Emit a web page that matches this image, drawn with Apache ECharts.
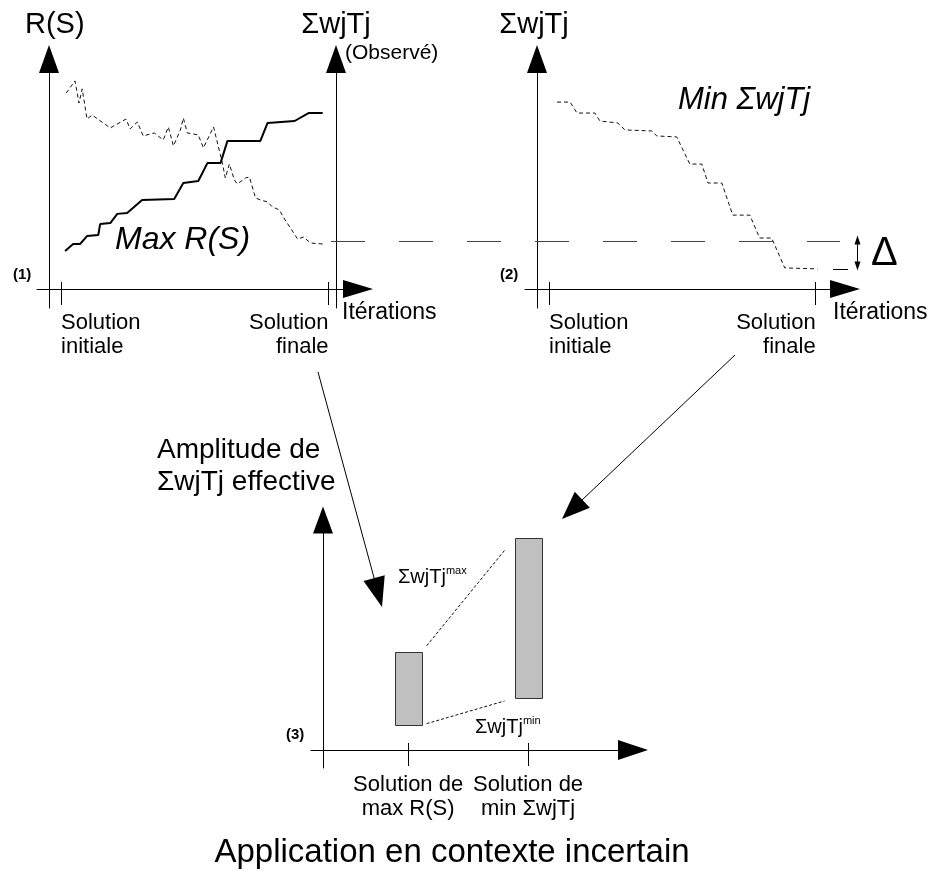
<!DOCTYPE html>
<html><head><meta charset="utf-8">
<script src="https://cdn.jsdelivr.net/npm/echarts@6/dist/echarts.min.js"></script>
<style>html,body{margin:0;padding:0;background:#fff}#c{width:930px;height:872px}</style>
</head><body><div id="c"></div>
<script>
// ---------- data ----------
const tickIter = [0, 100];
const tickLabels = ['Solution\ninitiale', 'Solution\nfinale'];
// Panel (1): observed ΣwjTj (dotted) while maximising R(S)
const obsIter = [1.9,5.2,6.7,7.9,9.7,11.6,18.4,24.3,25.8,28.5,30.7,34.8,38.2,40.1,42.0,44.6,45.7,47.2,51.3,53.2,57.0,60.3,61.4,62.9,64.8,65.9,68.9,70.4,72.7,74.5,77.2,79.0,81.6,83.1,88.4,90.6,93.3,97.8];
const obsValue = [86.3,91.2,82.3,88.0,75.9,77.5,72.3,75.9,71.9,74.7,69.1,70.3,67.5,72.7,65.1,71.5,76.3,70.3,69.5,64.3,72.7,58.2,52.2,57.8,51.4,49.8,52.2,52.6,44.2,43.4,42.6,40.6,39.4,36.5,27.7,28.5,26.1,25.7];
// Panel (1): R(S)
const rsIter = [1.5,4.5,7.1,9.7,13.9,14.6,18.4,21.0,24.7,30.3,42.3,45.7,51.3,54.7,59.6,62.2,74.5,77.2,87.3,92.5,97.8];
const rsValue = [22.9,25.7,25.7,28.9,29.3,33.7,34.1,37.8,38.2,43.4,43.8,50.2,51.0,58.2,58.2,67.1,67.1,74.3,75.1,78.3,78.3];
// Panel (2): min ΣwjTj
const minIter = [3.0,7.9,10.5,17.2,19.1,25.8,28.5,38.6,40.4,47.9,52.8,57.3,59.6,64.8,68.9,75.3,79.0,83.5,88.4,100.7];
const minValue = [82.7,82.7,78.3,78.3,75.1,74.3,71.5,71.1,69.1,68.7,57.8,57.8,50.2,50.2,37.3,37.3,28.1,28.1,16.1,15.7];
const observedLevel = 26.9;   // final observed ΣwjTj of panel (1)
const minLevel = 15.7;        // final ΣwjTj of panel (2)
// Panel (3): effective ΣwjTj ranges
const barPos = [1, 2];
const barCategories = ['Solution de\nmax R(S)', 'Solution de\nmin ΣwjTj'];
const barLow = [17.3, 28.2];
const barHigh = [46.8, 92.7];

// ---------- helpers ----------
const FONT = '"Liberation Sans", Arial, Helvetica, sans-serif';
const BLACK = '#000';
const zip = (a, b) => a.map((v, i) => [v, b[i]]);
const lblStyle = {color: BLACK, fontFamily: FONT, fontSize: 22, lineHeight: 24};

function xMain(g, min, max, ticks, labelVals, fmt, align, offset, arrowSize, margin) {
  return {
    type: 'value', gridIndex: g, min: min, max: max, position: 'bottom', offset: offset,
    axisLine: {show: true, onZero: false, symbol: ['none', 'triangle'], symbolSize: arrowSize,
      lineStyle: {color: BLACK, width: 1}},
    axisTick: {show: true, customValues: ticks, length: 16, inside: false, lineStyle: {color: BLACK, width: 1}},
    axisLabel: Object.assign({show: true, customValues: labelVals, formatter: fmt, align: align,
      verticalAlign: 'top', margin: margin}, lblStyle),
    splitLine: {show: false}
  };
}
function xOverlay(g, min, max, ticks, labelVals, fmt, align, offset, margin) {
  return {
    type: 'value', gridIndex: g, min: min, max: max, position: 'bottom', offset: offset,
    axisLine: {show: false, onZero: false},
    axisTick: {show: true, customValues: ticks, length: 7, inside: true, lineStyle: {color: BLACK, width: 1}},
    axisLabel: labelVals.length ? Object.assign({show: true, customValues: labelVals, formatter: fmt, align: align,
      verticalAlign: 'top', margin: margin}, lblStyle) : {show: false},
    splitLine: {show: false}
  };
}
function yAx(g, pos, offset, arrowSize) {
  return {
    type: 'value', gridIndex: g, min: 0, max: 100, position: pos, offset: offset,
    axisLine: {show: true, onZero: false, symbol: ['none', 'triangle'], symbolSize: arrowSize,
      lineStyle: {color: BLACK, width: 1}},
    axisTick: {show: false}, axisLabel: {show: false}, splitLine: {show: false}
  };
}
const iterFmt = v => tickLabels[tickIter.indexOf(v)];
const barFmt = v => barCategories[barPos.indexOf(v)];

const chart = echarts.init(document.getElementById('c'));
const option = {
  animation: false,
  backgroundColor: '#fff',
  textStyle: {fontFamily: FONT},
  grid: [
    {left: 37, right: 572, top: 59, bottom: 564, containLabel: false, outerBoundsMode: 'none'},
    {left: 525, right: 85, top: 59, bottom: 564, containLabel: false, outerBoundsMode: 'none'},
    {left: 311, right: 297, top: 520, bottom: 104, containLabel: false, outerBoundsMode: 'none'}
  ],
  xAxis: [
    xMain(0, -9, 111, tickIter, [tickIter[0]], iterFmt, 'left', -19, [18, 30], 22),
    xOverlay(0, -9, 111, tickIter, [tickIter[1]], iterFmt, 'right', -19, 22),
    xMain(1, -9, 111, tickIter, [tickIter[0]], iterFmt, 'left', -19, [18, 30], 22),
    xOverlay(1, -9, 111, tickIter, [tickIter[1]], iterFmt, 'right', -19, 22),
    xMain(2, 0.19, 2.875, barPos, barPos, barFmt, 'center', -18, [20, 30], 23),
    xOverlay(2, 0.19, 2.875, barPos, [], null, 'center', -18, 23)
  ],
  yAxis: [
    yAx(0, 'left', -12, [20, 28]),
    yAx(0, 'right', -22, [20, 28]),
    yAx(1, 'left', -12, [20, 28]),
    yAx(2, 'left', -12, [20, 27])
  ],
  series: [
    {name: 'ΣwjTj (Observé)', type: 'line', xAxisIndex: 0, yAxisIndex: 1, data: zip(obsIter, obsValue),
      symbol: 'none', lineStyle: {color: '#111', width: 1, type: [4, 3]}},
    {name: 'R(S)', type: 'line', xAxisIndex: 0, yAxisIndex: 0, data: zip(rsIter, rsValue),
      symbol: 'none', lineStyle: {color: BLACK, width: 2}},
    {name: 'Min ΣwjTj', type: 'line', xAxisIndex: 2, yAxisIndex: 2, data: zip(minIter, minValue),
      symbol: 'none', lineStyle: {color: '#111', width: 1, type: [4, 3]}},
    {name: 'Amplitude', type: 'custom', xAxisIndex: 4, yAxisIndex: 3,
      data: barPos.map((p, i) => [p, barLow[i], barHigh[i]]),
      encode: {x: 0, y: [1, 2]},
      renderItem: function (params, api) {
        const x = api.value(0);
        const lo = api.coord([x, api.value(1)]);
        const hi = api.coord([x, api.value(2)]);
        const w = 27;
        return {type: 'rect', shape: {x: Math.round(lo[0] - w / 2) + 0.5, y: Math.round(hi[1]) + 0.5,
            width: w, height: Math.round(lo[1] - hi[1])},
          style: {fill: '#c0c0c0', stroke: '#333', lineWidth: 1}};
      }}
  ]
};
chart.setOption(option);

// ---------- annotations ----------
const toPx = (xi, yi, pt) => chart.convertToPixel({xAxisIndex: xi, yAxisIndex: yi}, pt);
const crisp = v => Math.round(v) + 0.5;
function txt(x, y, text, size, extra) {
  return {type: 'text', x: x, y: y, z: 50, silent: true,
    style: Object.assign({text: text, fontFamily: FONT, fontSize: size, fill: BLACK,
      align: 'left', verticalAlign: 'middle'}, extra || {})};
}
function line(x1, y1, x2, y2, extra) {
  return {type: 'line', z: 40, silent: true, shape: {x1: x1, y1: y1, x2: x2, y2: y2},
    style: Object.assign({stroke: BLACK, lineWidth: 1}, extra || {})};
}
function head(tx, ty, fx, fy, len, wid) {
  const d = Math.hypot(tx - fx, ty - fy), ux = (tx - fx) / d, uy = (ty - fy) / d;
  const bx = tx - ux * len, by = ty - uy * len;
  return {type: 'polygon', z: 41, silent: true,
    shape: {points: [[tx, ty], [bx - uy * wid / 2, by + ux * wid / 2], [bx + uy * wid / 2, by - ux * wid / 2]]},
    style: {fill: BLACK}};
}
function arrow(x1, y1, x2, y2, len, wid) {
  const d = Math.hypot(x2 - x1, y2 - y1);
  const ex = x2 - (x2 - x1) / d * (len - 2), ey = y2 - (y2 - y1) / d * (len - 2);
  return [line(x1, y1, ex, ey), head(x2, y2, x1, y1, len, wid)];
}

const yObs = crisp(toPx(2, 2, [0, observedLevel])[1]);
const yMin = crisp(toPx(2, 2, [0, minLevel])[1]);
const b1Top = toPx(4, 3, [barPos[0], barHigh[0]]);
const b1Bot = toPx(4, 3, [barPos[0], barLow[0]]);
const b2Top = toPx(4, 3, [barPos[1], barHigh[1]]);
const b2Bot = toPx(4, 3, [barPos[1], barLow[1]]);
function connector(a, b) {
  const ax = a[0] + 13.5, bx = b[0] - 13.5;
  const t0 = 5 / (bx - ax), t1 = 1 - 10 / (bx - ax);
  return line(ax + (bx - ax) * t0, a[1] + (b[1] - a[1]) * t0, ax + (bx - ax) * t1, a[1] + (b[1] - a[1]) * t1,
    {lineDash: [3, 2], stroke: '#111'});
}

const g = [
  txt(25, 25, 'R(S)', 29),
  txt(336, 25, 'ΣwjTj', 29, {align: 'center'}),
  txt(345, 53, '(Observé)', 21),
  txt(534, 25, 'ΣwjTj', 29, {align: 'center'}),
  txt(342, 313, 'Itérations', 23),
  txt(833, 313, 'Itérations', 23),
  txt(115, 240, 'Max R(S)', 32, {fontStyle: 'italic'}),
  txt(678, 100, 'Min ΣwjTj', 31, {fontStyle: 'italic'}),
  txt(13, 275, '(1)', 15, {fontWeight: 'bold'}),
  txt(500, 275, '(2)', 15, {fontWeight: 'bold'}),
  txt(286, 735, '(3)', 15, {fontWeight: 'bold'}),
  txt(871, 254, 'Δ', 40),
  txt(157, 466, 'Amplitude de\nΣwjTj effective', 28, {lineHeight: 32}),
  txt(398, 577, '{a|ΣwjTj}{s|max}', 20, {rich: {a: {fontFamily: FONT, fontSize: 20, lineHeight: 24},
    s: {fontFamily: FONT, fontSize: 11, lineHeight: 14, verticalAlign: 'top'}}}),
  txt(475, 727, '{a|ΣwjTj}{s|min}', 20, {rich: {a: {fontFamily: FONT, fontSize: 20, lineHeight: 24},
    s: {fontFamily: FONT, fontSize: 11, lineHeight: 14, verticalAlign: 'top'}}}),
  txt(452, 853, 'Application en contexte incertain', 33, {align: 'center'}),
  // dashed reference level across panels (1) and (2)
  line(331, yObs, 840, yObs, {stroke: '#444', lineDash: [34, 34]}),
  // Δ marker
  line(833, yMin, 848, yMin),
  line(857.5, yObs - 6 + 8, 857.5, yMin + 1 - 8),
  head(857.5, yObs - 6, 857.5, yMin, 9, 6),
  head(857.5, yMin + 1, 857.5, yObs, 9, 6),
  // connectors between ranges
  connector(b1Top, b2Top),
  connector(b1Bot, b2Bot)
].concat(arrow(318, 372, 382, 607, 30, 22), arrow(735, 355, 562, 519, 28, 22));

chart.setOption({graphic: g});
</script>
</body></html>
